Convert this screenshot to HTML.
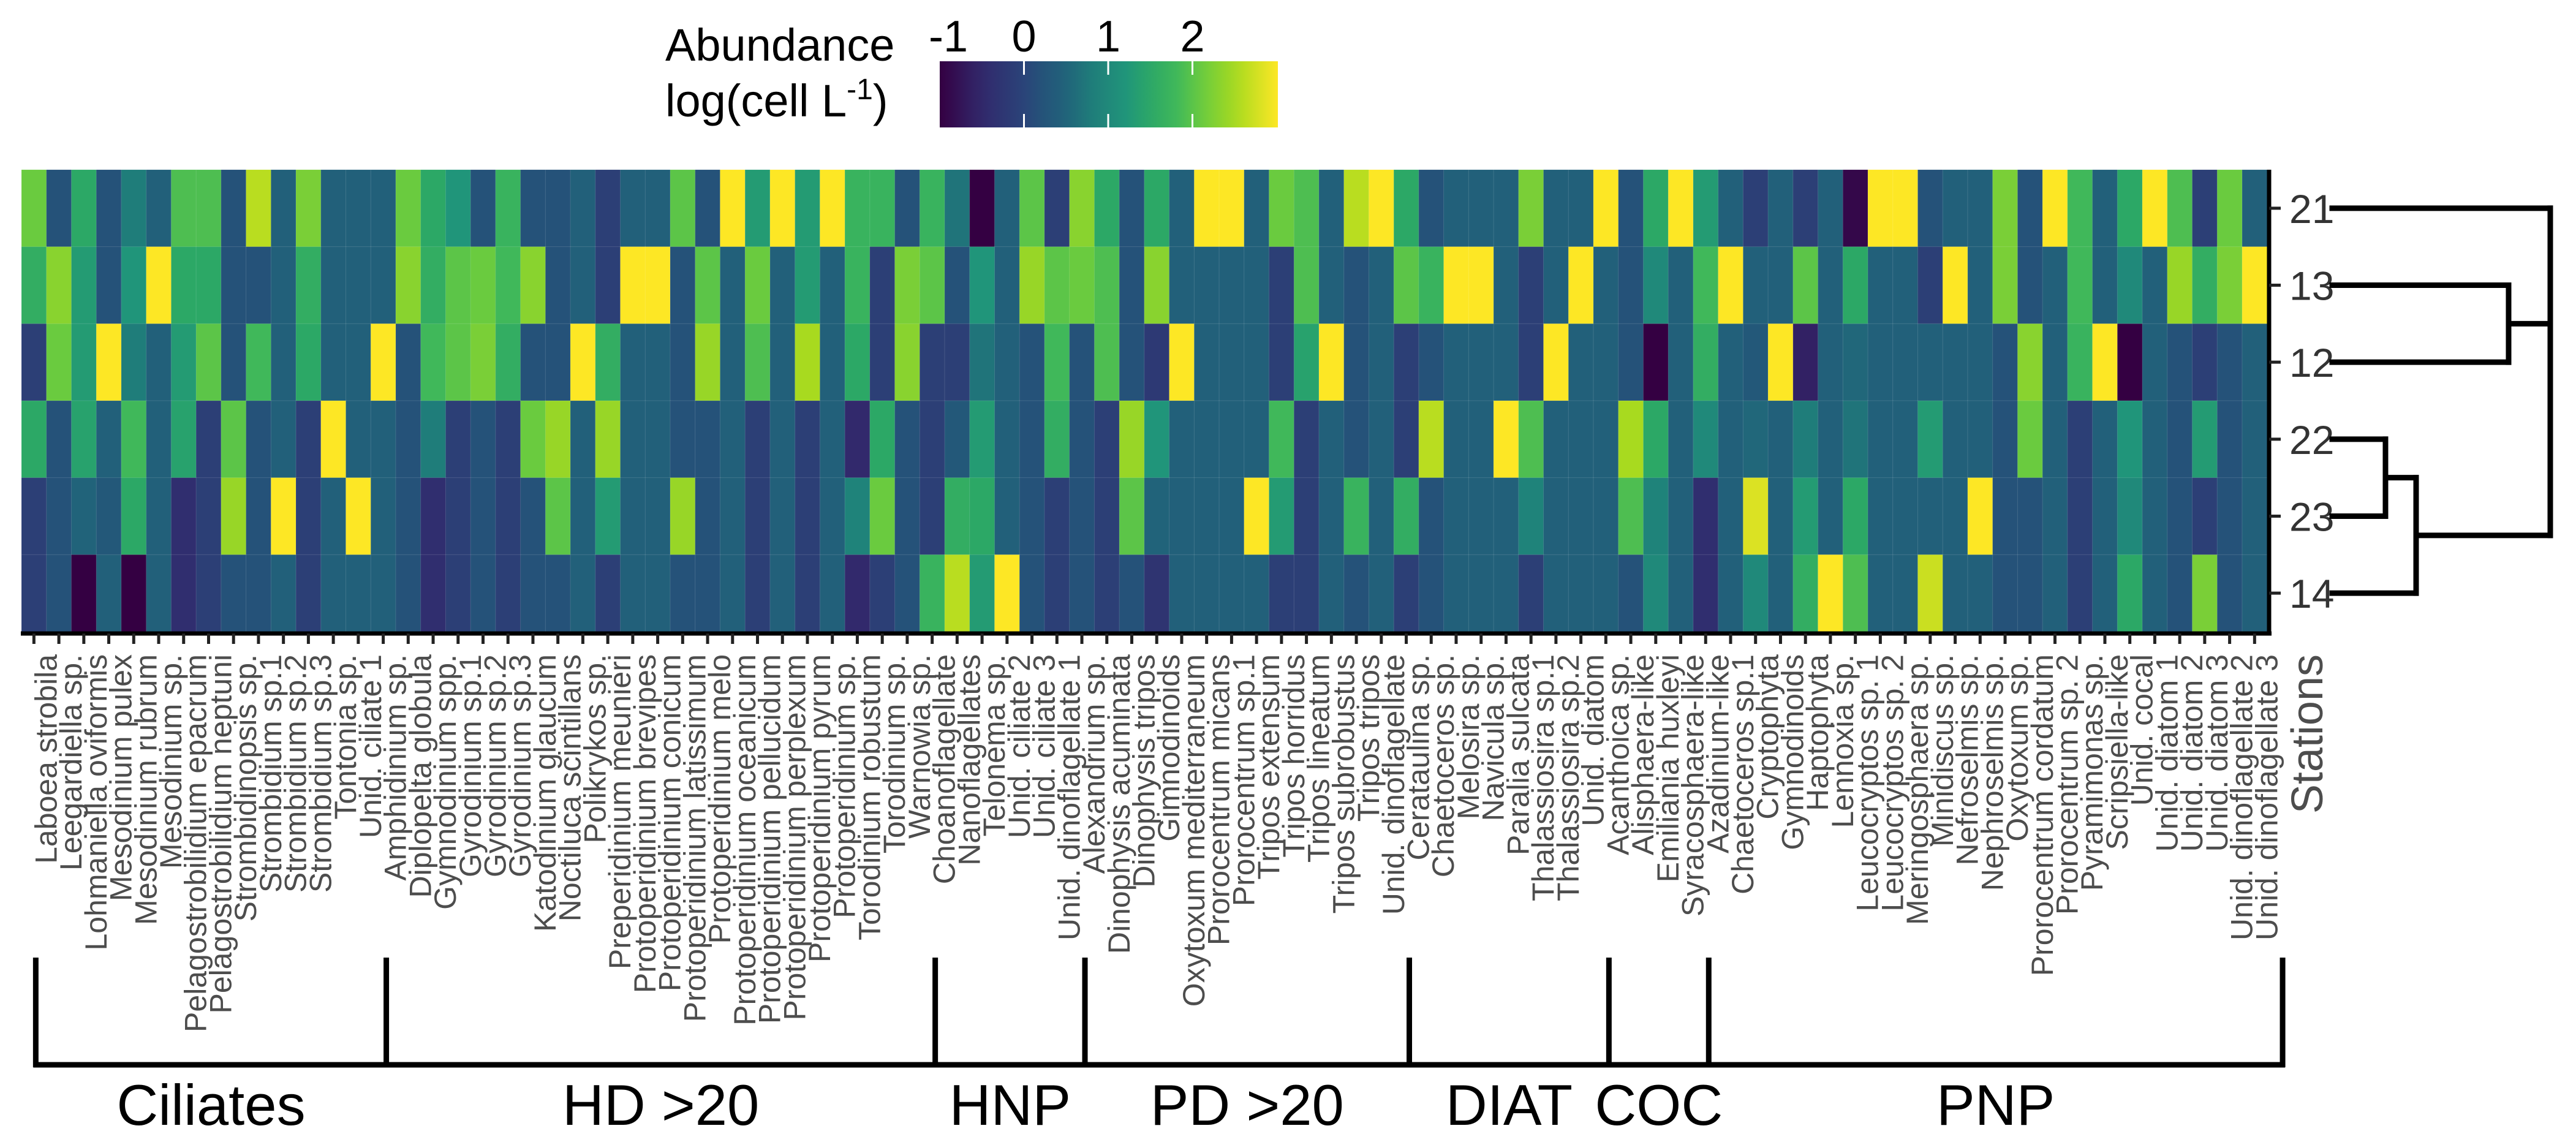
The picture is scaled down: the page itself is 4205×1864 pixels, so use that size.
<!DOCTYPE html>
<html><head><meta charset="utf-8"><style>
html,body{margin:0;padding:0;background:#fff;}
svg{display:block;font-family:"Liberation Sans",Arial,sans-serif;}
</style></head><body>
<svg id="chart" width="4205" height="1864" viewBox="0 0 4205 1864" xmlns="http://www.w3.org/2000/svg">
<defs>
<linearGradient id="cbgrad" x1="0" x2="1" y1="0" y2="0"></linearGradient>
</defs>
<g id="legend">
<text x="1086" y="99" font-size="74" fill="#000">Abundance</text>
<text x="1086" y="190" font-size="74" fill="#000">log(cell L<tspan dy="-28" font-size="48">-1</tspan><tspan dy="28">)</tspan></text>
<rect x="1534" y="100" width="552" height="108" fill="url(#cbgrad)"></rect>
<g id="cbticks"></g>
</g>
<g id="heat"></g>
<g id="axes"></g>
<g id="xlabels"></g>
<g id="ylabels"></g>
<g id="dendro"></g>
<g id="groups"></g>
<text transform="translate(3791,1068) rotate(-90)" text-anchor="end" font-size="72" fill="#4d4d4d">Stations</text>
</svg>
<script>
const stations = ["21","13","12","22","23","14"];
const taxa = ["Laboea strobila","Leegardiella sp.","Lohmaniella oviformis","Mesodinium pulex","Mesodinium rubrum","Mesodinium sp.","Pelagostrobilidium epacrum","Pelagostrobilidium neptuni","Strombidinopsis sp.","Strombidium sp.1","Strombidium sp.2","Strombidium sp.3","Tontonia sp.","Unid. ciliate 1",
"Amphidinium sp.","Diplopelta globula","Gymnodinium spp.","Gyrodinium sp.1","Gyrodinium sp.2","Gyrodinium sp.3","Katodinium glaucum","Noctiluca scintillans","Polikrykos sp.","Preperidinium meunieri","Protoperidinium brevipes","Protoperidinium conicum","Protoperidinium latissimum","Protoperidinium melo","Protoperidinium oceanicum","Protoperidinium pellucidum","Protoperidinium perplexum","Protoperidinium pyrum","Protoperidinium sp.","Torodinium robustum","Torodinium sp.","Warnowia sp.",
"Choanoflagellate","Nanoflagellates","Telonema sp.","Unid. ciliate 2","Unid. ciliate 3","Unid. dinoflagellate 1",
"Alexandrium sp.","Dinophysis acuminata","Dinophysis tripos","Gimnodinoids","Oxytoxum mediterraneum","Prorocentrum micans","Prorocentrum sp.1","Tripos extensum","Tripos horridus","Tripos lineatum","Tripos subrobustus","Tripos tripos","Unid. dinoflagellate",
"Cerataulina sp.","Chaetoceros sp.","Melosira sp.","Navicula sp.","Paralia sulcata","Thalassiosira sp.1","Thalassiosira sp.2","Unid. diatom",
"Acanthoica sp.","Alisphaera-like","Emiliania huxleyi","Syracosphaera-like",
"Azadinium-like","Chaetoceros sp.1","Cryptophyta","Gymnodinoids","Haptophyta","Lennoxia sp.","Leucocryptos sp. 1","Leucocryptos sp. 2","Meringosphaera sp.","Minidiscus sp.","Nefroselmis sp.","Nephroselmis sp.","Oxytoxum sp.","Prorocentrum cordatum","Prorocentrum sp. 2","Pyramimonas sp.","Scripsiella-like","Unid. cocal","Unid. diatom 1","Unid. diatom 2","Unid. diatom 3","Unid. dinoflagellate 2","Unid. dinoflagellate 3"];
const groupNames = ["Ciliates","HD >20","HNP","PD >20","DIAT","COC","PNP"];
const groupStarts = [0,14,36,42,55,63,67,90];
const cbTicks = [-1,0,1,2];
const row21 = [2.1,0.2,1.5,0.2,0.8,0.45,1.9,1.9,0.2,2.6,0.45,2.2,0.45,0.45,0.45,2.1,1.5,1.2,0.2,1.7,0.2,0.2,
0.45,-0.1,0.45,0.45,2.0,0.2,3,1.3,3,1.3,3,1.7,1.7,0.2,1.7,0.7,-1,0.45,2.0,-0.1,2.3,1.5,0.2,
1.5,0.45,3,3,0.45,2.1,1.9,0.45,2.6,3,1.5,0.2,0.45,0.45,0.45,2.2,0.45,0.45,3,0.2,1.5,3,
1.3,0.45,-0.1,0.45,-0.1,0.45,-0.9,3,3,0.2,0.45,0.45,2.2,0.2,3,1.8,0.45,1.5,3,1.9,-0.1,2.1,0.45];
const row13 = [1.6,2.3,1.3,0.2,1.2,3,1.5,1.5,0.2,0.2,0.45,1.6,0.45,0.45,0.45,2.3,1.6,2.0,2.1,1.8,2.3,0.2,
0.45,-0.1,3,3,0.2,2.0,0.45,2.1,0.45,1.3,0.45,1.7,-0.1,2.2,2.0,0.2,1.2,0.45,2.4,2.0,2.1,1.9,0.2,
2.3,0.45,0.45,0.45,0.45,-0.1,1.9,0.45,0.2,0.45,2.0,1.7,3,3,0.45,-0.1,0.45,3,0.45,0.2,1.0,0.45,
1.8,3,0.45,0.45,2.0,0.45,1.5,0.45,0.45,-0.1,3,0.45,2.2,0.2,0.45,1.8,0.45,1.0,0.45,2.4,1.6,2.2,3];
const row12 = [-0.1,2.1,1.3,3,0.8,0.45,1.3,2.0,0.2,1.8,0.45,1.5,0.45,0.45,3,0.2,1.8,2.0,2.2,1.6,0.2,0.2,
3,1.6,0.45,0.45,0.2,2.4,0.45,1.9,0.45,2.5,0.45,1.5,-0.1,2.3,-0.1,-0.1,0.7,0.45,0.2,1.8,0.2,1.9,0.2,
-0.2,3,0.45,0.45,0.45,-0.1,1.4,3,0.2,0.45,-0.1,0.2,0.45,0.45,0.45,-0.1,3,0.45,0.45,0.2,-1,0.45,
1.6,0.45,0.3,3,-0.6,0.45,0.55,0.45,0.45,0.45,0.45,0.45,0.2,2.3,0.45,1.7,3,-1,0.45,0.2,-0.1,0.2,0.45];
const row22 = [1.5,0.2,1.4,0.45,1.8,0.45,1.4,-0.1,2.0,0.2,0.45,-0.1,3,0.45,0.45,0.2,0.8,-0.1,0.2,-0.1,2.1,2.4,
0.45,2.4,0.45,0.45,0.2,0.2,0.45,-0.1,0.45,-0.1,0.45,-0.5,1.5,0.2,-0.1,0.3,1.3,0.45,0.2,1.6,0.2,-0.1,2.4,
1.2,0.45,0.45,0.45,0.45,1.8,-0.1,0.45,0.2,0.45,-0.1,2.6,0.45,0.45,3,1.9,0.45,0.45,0.45,2.5,1.5,0.45,
1.0,0.45,0.55,0.45,0.8,0.45,0.7,0.45,0.45,1.3,0.45,0.45,0.2,2.1,0.45,-0.1,0.45,1.2,0.45,0.2,1.3,0.2,0.45];
const row23 = [-0.1,0.2,0.5,0.3,1.5,0.45,-0.4,-0.1,2.4,0.2,3,-0.1,0.45,3,0.45,0.2,-0.4,-0.1,0.2,-0.1,0.2,2.0,
0.45,1.3,0.45,0.45,2.4,0.2,0.45,-0.1,0.45,-0.1,0.45,0.9,2.1,0.2,-0.1,1.6,1.5,0.45,0.2,-0.1,0.2,-0.1,2.0,
0.5,0.45,0.45,0.45,3,1.3,-0.1,0.45,1.7,0.45,1.6,0.2,0.45,0.45,0.45,0.9,0.45,0.45,0.45,1.9,0.9,0.45,
-0.4,0.45,2.8,0.45,1.3,0.45,1.5,0.45,0.45,0.45,0.45,3,0.2,0.2,0.45,-0.1,0.45,1.0,0.45,0.2,-0.1,0.2,0.45];
const row14 = [-0.1,0.2,-1,0.45,-1,0.45,-0.4,-0.1,0.2,0.2,0.45,-0.1,0.45,0.45,0.45,0.2,-0.4,-0.1,0.2,-0.1,0.2,0.2,
0.45,-0.1,0.45,0.45,0.2,0.2,0.45,-0.1,0.45,-0.1,0.45,-0.5,-0.1,0.2,1.7,2.6,1.3,3,0.2,-0.1,0.2,-0.1,0.2,
-0.3,0.45,0.45,0.45,0.45,-0.1,-0.1,0.45,0.2,0.45,-0.1,0.2,0.45,0.45,0.45,-0.1,0.45,0.45,0.45,0.2,1.0,0.45,
-0.4,0.45,1.0,0.45,1.6,3,1.9,0.45,0.45,2.7,0.45,0.45,0.2,0.2,0.45,-0.1,0.45,1.5,0.45,0.2,2.2,0.2,0.45];
const values = [row21,row13,row12,row22,row23,row14];

const NS = "http://www.w3.org/2000/svg";
function mk(tag, attrs, parent){const e=document.createElementNS(NS,tag);for(const k in attrs)e.setAttribute(k,attrs[k]);parent.appendChild(e);return e;}
const stops=[[-1,"#340042"],[-0.5,"#32296c"],[0,"#2a4479"],[0.25,"#245579"],[0.5,"#21637a"],[0.8,"#1f7d7a"],[1.2,"#20957a"],[1.5,"#2ca866"],[1.8,"#40b85a"],[2.1,"#6acb3f"],[2.5,"#a8da1f"],[3,"#fde725"]];
function hex(h){return [1,3,5].map(i=>parseInt(h.substr(i,2),16));}
function color(v){v=Math.max(-1,Math.min(3,v));for(let i=0;i<stops.length-1;i++){const[a,ca]=stops[i],[b,cb]=stops[i+1];if(v<=b){const t=(v-a)/(b-a);const A=hex(ca),B=hex(cb);return "rgb("+A.map((x,j)=>Math.round(x+(B[j]-x)*t)).join(",")+")";}}return stops[stops.length-1][1];}
const X0=35,CW=40.73,Y0=277,RH=125.67;
const xs=i=>X0+i*CW, ys=r=>Y0+r*RH, xc=i=>X0+(i+0.5)*CW, yc=r=>Y0+(r+0.5)*RH;
const cbX=v=>1534+(v+1)*137.5;

// gradient
const grad=document.getElementById('cbgrad');
for(let k=0;k<=20;k++){const v=-1+4*k/20;mk('stop',{offset:(k/20),'stop-color':color(v)},grad);}
const cbt=document.getElementById('cbticks');
cbTicks.forEach(t=>{
  if(t>-1){let l=mk('line',{x1:cbX(t),x2:cbX(t),y1:100,y2:122,stroke:'#fff','stroke-width':3},cbt);
  
  
  l=mk('line',{x1:cbX(t),x2:cbX(t),y1:186,y2:208,stroke:'#fff','stroke-width':3},cbt);
  
  }
  const tx=mk('text',{x:cbX(t)+(t<0?14:0),y:84,'font-size':72,'text-anchor':'middle',fill:'#000'},cbt);
  
  
  tx.textContent=String(t);
});

const heat=document.getElementById('heat');
values.forEach((row,r)=>row.forEach((v,i)=>{
  const c=mk('rect',{x:xs(i),y:ys(r),width:CW+0.4,height:RH+0.4,fill:color(v),stroke:'rgba(255,255,255,0.12)','stroke-width':1},heat);
  
  
}));

const axes=document.getElementById('axes');
let a=mk('line',{x1:X0-1,x2:3708,y1:1034,y2:1034,stroke:'#000','stroke-width':7},axes);


a=mk('line',{x1:3704,x2:3704,y1:Y0,y2:1037,stroke:'#000','stroke-width':7},axes);



const xl=document.getElementById('xlabels');
taxa.forEach((name,i)=>{
  const t=mk('line',{x1:xc(i),x2:xc(i),y1:1034,y2:1051,stroke:'#222','stroke-width':5},axes);
  
  
  const tx=mk('text',{transform:'translate('+(xc(i)+37)+',1068) rotate(-90)','text-anchor':'end','font-size':50,fill:'#4d4d4d'},xl);
  
  
  tx.textContent=name;
});
const yl=document.getElementById('ylabels');
stations.forEach((s,r)=>{
  const t=mk('line',{x1:3704,x2:3723,y1:yc(r),y2:yc(r),stroke:'#222','stroke-width':5},axes);
  
  
  const tx=mk('text',{x:3737,y:yc(r)+24,'font-size':66,fill:'#333'},yl);
  
  
  tx.textContent=s;
});

// dendrogram
const dg=document.getElementById('dendro');
const L=3807, W=9;
function seg(x1,y1,x2,y2){const p=mk('line',{x1:x1,y1:y1,x2:x2,y2:y2,stroke:'#000','stroke-width':W,'stroke-linecap':'square'},dg);

}
const m1=(yc(1)+yc(2))/2, m2=(yc(3)+yc(4))/2, m3=(m2+yc(5))/2;
seg(L,yc(0),4163,yc(0));
seg(L,yc(1),4095,yc(1)); seg(L,yc(2),4095,yc(2)); seg(4095,yc(1),4095,yc(2)); seg(4095,m1,4163,m1);
seg(4163,yc(0),4163,m3);
seg(L,yc(3),3894,yc(3)); seg(L,yc(4),3894,yc(4)); seg(3894,yc(3),3894,yc(4)); seg(3894,m2,3944,m2);
seg(L,yc(5),3944,yc(5)); seg(3944,m2,3944,yc(5)); seg(3944,m3,4163,m3);

// group brackets
const gg=document.getElementById('groups');
const bx=i=>xc(i)+(i===0?3:5);
let hl=mk('line',{x1:bx(0)-4,x2:bx(90)+4,y1:1738,y2:1738,stroke:'#000','stroke-width':9},gg);


groupStarts.forEach(i=>{
  const v=mk('line',{x1:bx(i),x2:bx(i),y1:1563,y2:1742,stroke:'#000','stroke-width':9},gg);
  
  
});
groupNames.forEach((g,k)=>{
  const cx=(bx(groupStarts[k])+bx(groupStarts[k+1]))/2;
  const t=mk('text',{x:cx,y:1836,'font-size':94,'text-anchor':'middle',fill:'#000'},gg);
  
  
  t.textContent=g;
});
</script>
</body></html>
